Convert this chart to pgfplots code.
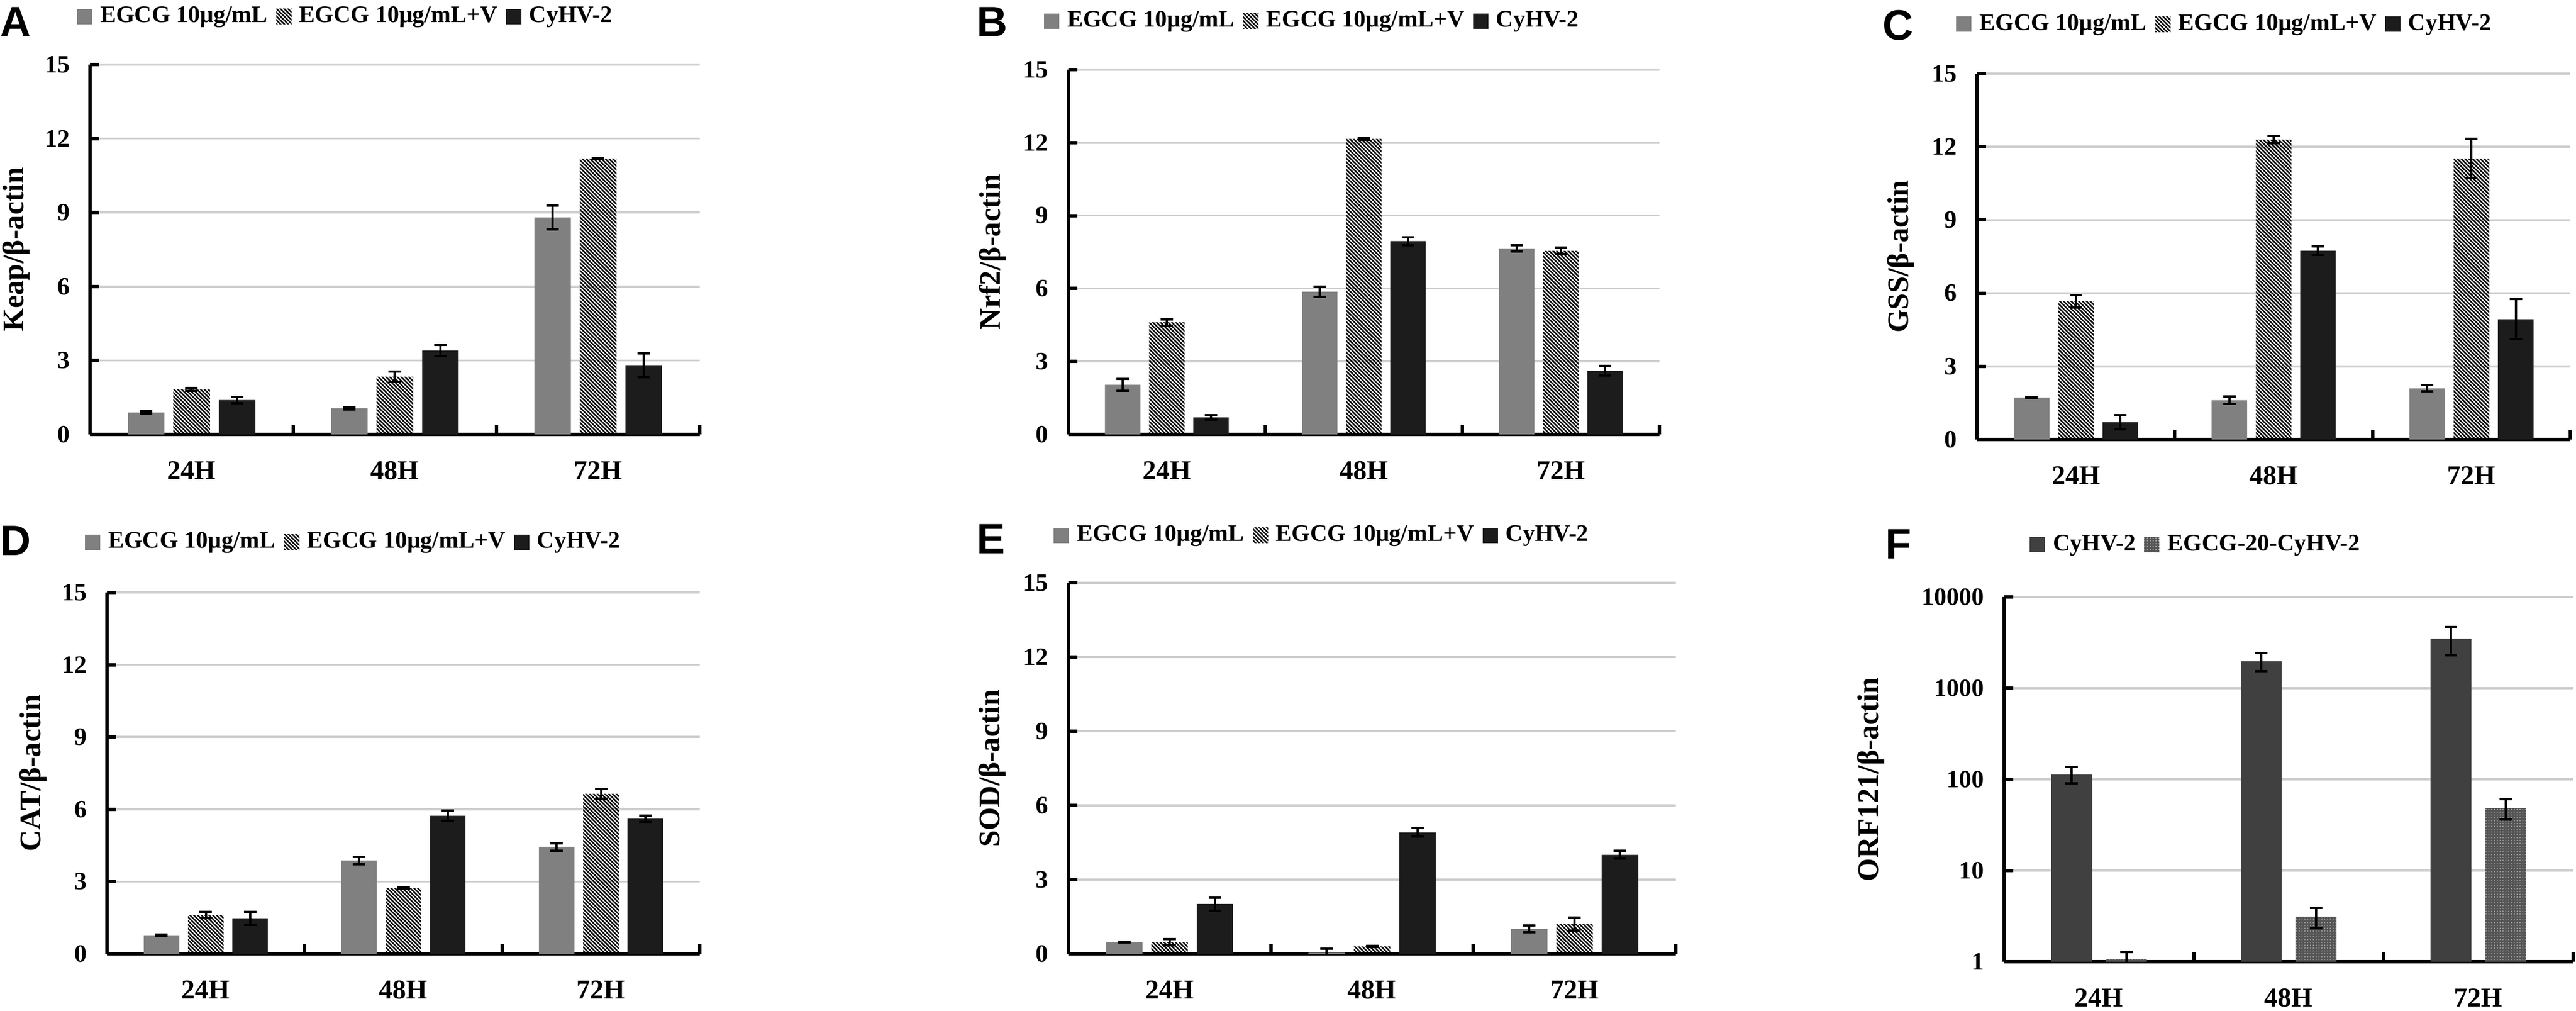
\documentclass[border=0pt]{standalone}
\usepackage{fontspec}
\setmainfont{Liberation Serif}
\newfontfamily\panelfont{Liberation Sans}
\usepackage{pgfplots}
\pgfplotsset{compat=1.18}
\usetikzlibrary{patterns.meta}

\definecolor{cgrey}{RGB}{128,128,128}
\definecolor{cblack}{RGB}{28,28,28}
\definecolor{cdark}{RGB}{64,64,64}
\definecolor{cdot}{RGB}{85,85,85}
\definecolor{cgrid}{RGB}{205,205,205}

\pgfplotsset{
  sq legend/.style={legend image code/.code={\fill[##1] (0pt,-2.7pt) rectangle (5.4pt,2.7pt);}},
  bgrey/.style={fill=cgrey, draw=none, bar shift=-0.224, sq legend},
  bhatch/.style={draw=none, pattern={Lines[angle=-45,distance=0.95pt,line width=0.5pt]}, pattern color=black, bar shift=0, sq legend},
  bblack/.style={fill=cblack, draw=none, bar shift=0.224, sq legend},
  bdark/.style={fill=cdark, draw=none, bar shift=-0.144, bar width=0.216, sq legend},
  bdot/.style={fill=cdot, draw=none, postaction={pattern={Dots[distance=0.9pt,radius=0.22pt]}, pattern color=white!65!cdot}, bar shift=0.144, bar width=0.216, sq legend},
  errs/.style={error bars/y dir=both, error bars/y explicit,
    error bars/error bar style={line width=0.8pt, black},
    error bars/error mark options={rotate=90, line width=0.8pt, black, mark size=2.2pt}},
  panel/.style={
    scale only axis, ybar, bar width=0.18,
    xmin=-0.5, xmax=2.5, ymin=0, ymax=15,
    xtick={0,1,2}, xticklabels={24H,48H,72H},
    major x tick style={draw=none},
    minor xtick={-0.5,0.5,1.5,2.5},
    ytick={0,3,...,15},
    tick align=inside,
    axis x line*=bottom, axis y line*=left,
    axis line style={line width=1.2pt, black, -},
    every tick/.style={black, line width=1.2pt},
    major tick length=3.2pt, minor tick length=3.4pt,
    ymajorgrids, grid style={cgrid, line width=0.7pt},
    /pgf/number format/assume math mode=true,
    yticklabel style={font=\bfseries\fontsize{8.8}{10}\selectfont, xshift=-3.5pt},
    xticklabel style={font=\bfseries\fontsize{9.6}{10}\selectfont, yshift=-6pt},
    ylabel style={font=\bfseries\fontsize{10.5}{12}\selectfont, anchor=center},
    legend columns=-1,
    legend cell align=left,
    legend style={draw=none, fill=none, inner sep=0pt, anchor=west,
      font=\bfseries\fontsize{8.4}{9}\selectfont,
      nodes={inner xsep=1pt, inner ysep=1pt},
      /tikz/every even column/.append style={column sep=2pt},
      /tikz/every odd column/.append style={column sep=1.8pt}},
  }
}

\begin{document}
\begin{tikzpicture}
\useasboundingbox (0,0) rectangle (910pt,356.8pt);

% A
\begin{axis}[panel, at={(31.8pt,203.4pt)}, anchor=south west, width=215.4pt, height=130.6pt,
  ylabel={Keap/β-actin}, ylabel style={at={(axis description cs:-0.121,0.5)}},
  legend style={at={(axis description cs:-0.022,1.130)}}]
\addplot[bgrey, errs] coordinates {(0,0.89) +- (0,0.05) (1,1.06) +- (0,0.05) (2,8.80) +- (0,0.49)};
\addplot[bhatch, errs] coordinates {(0,1.83) +- (0,0.05) (1,2.34) +- (0,0.21) (2,11.19) +- (0,0.03)};
\addplot[bblack, errs] coordinates {(0,1.39) +- (0,0.12) (1,3.40) +- (0,0.24) (2,2.81) +- (0,0.48)};
\legend{EGCG 10μg/mL, EGCG 10μg/mL+V, CyHV-2}
\end{axis}

% B
\begin{axis}[panel, at={(377.4pt,203.4pt)}, anchor=south west, width=208.8pt, height=128.8pt,
  ylabel={Nrf2/β-actin}, ylabel style={at={(axis description cs:-0.128,0.5)}},
  legend style={at={(axis description cs:-0.042,1.1335)}}]
\addplot[bgrey, errs] coordinates {(0,2.04) +- (0,0.25) (1,5.87) +- (0,0.20) (2,7.65) +- (0,0.12)};
\addplot[bhatch, errs] coordinates {(0,4.61) +- (0,0.13) (1,12.15) +- (0,0.03) (2,7.55) +- (0,0.13)};
\addplot[bblack, errs] coordinates {(0,0.70) +- (0,0.10) (1,7.95) +- (0,0.16) (2,2.62) +- (0,0.20)};
\legend{EGCG 10μg/mL, EGCG 10μg/mL+V, CyHV-2}
\end{axis}

% C
\begin{axis}[panel, at={(698.4pt,201.6pt)}, anchor=south west, width=209.6pt, height=129.2pt,
  ylabel={GSS/β-actin}, ylabel style={at={(axis description cs:-0.128,0.5)}},
  legend style={at={(axis description cs:-0.036,1.1347)}}]
\addplot[bgrey, errs] coordinates {(0,1.72) +- (0,0.02) (1,1.61) +- (0,0.15) (2,2.10) +- (0,0.12)};
\addplot[bhatch, errs] coordinates {(0,5.66) +- (0,0.25) (1,12.29) +- (0,0.15) (2,11.52) +- (0,0.80)};
\addplot[bblack, errs] coordinates {(0,0.71) +- (0,0.30) (1,7.74) +- (0,0.18) (2,4.93) +- (0,0.82)};
\legend{EGCG 10μg/mL, EGCG 10μg/mL+V, CyHV-2}
\end{axis}

% D
\begin{axis}[panel, at={(37.8pt,20pt)}, anchor=south west, width=209.4pt, height=127.6pt,
  ylabel={CAT/β-actin}, ylabel style={at={(axis description cs:-0.125,0.5)}},
  legend style={at={(axis description cs:-0.038,1.1395)}}]
\addplot[bgrey, errs] coordinates {(0,0.77) +- (0,0.04) (1,3.87) +- (0,0.16) (2,4.44) +- (0,0.15)};
\addplot[bhatch, errs] coordinates {(0,1.61) +- (0,0.12) (1,2.73) +- (0,0.02) (2,6.64) +- (0,0.20)};
\addplot[bblack, errs] coordinates {(0,1.47) +- (0,0.27) (1,5.73) +- (0,0.21) (2,5.61) +- (0,0.12)};
\legend{EGCG 10μg/mL, EGCG 10μg/mL+V, CyHV-2}
\end{axis}

% E
\begin{axis}[panel, at={(377.4pt,20pt)}, anchor=south west, width=214.6pt, height=131pt,
  ylabel={SOD/β-actin}, ylabel style={at={(axis description cs:-0.125,0.5)}},
  legend style={at={(axis description cs:-0.025,1.128)}}]
\addplot[bgrey, errs] coordinates {(0,0.47) +- (0,0.02) (1,0.05) +- (0,0.15) (2,1.01) +- (0,0.13)};
\addplot[bhatch, errs] coordinates {(0,0.47) +- (0,0.12) (1,0.30) +- (0,0.03) (2,1.21) +- (0,0.26)};
\addplot[bblack, errs] coordinates {(0,2.01) +- (0,0.26) (1,4.91) +- (0,0.17) (2,4.00) +- (0,0.16)};
\legend{EGCG 10μg/mL, EGCG 10μg/mL+V, CyHV-2}
\end{axis}

% F
\begin{axis}[panel, at={(708pt,17.2pt)}, anchor=south west, width=201pt, height=128.8pt,
  ymode=log, ymin=1, ymax=10000, ytick={1,10,100,1000,10000},
  yticklabels={1,10,100,1000,10000}, yminorticks=false,
  ylabel={ORF121/β-actin}, ylabel style={at={(axis description cs:-0.234,0.5)}},
  legend style={at={(axis description cs:0.044,1.143)}}]
\addplot[bdark, errs] coordinates {(0,113) +- (0,23) (1,1977) +- (0,450) (2,3485) +- (0,1200)};
\addplot[bdot, errs] coordinates {(0,1.07) +- (0,0.2) (1,3.11) +- (0,0.8) (2,48.2) +- (0,12)};
\legend{CyHV-2, EGCG-20-CyHV-2}
\end{axis}

% panel letters
\tikzset{plet/.style={anchor=north west, inner sep=0pt, font=\panelfont\bfseries\fontsize{15}{16}\selectfont}}
\node[plet] at (0pt,354.4pt) {A};
\node[plet] at (344.8pt,354.4pt) {B};
\node[plet] at (664.8pt,353.4pt) {C};
\node[plet] at (0pt,171.2pt) {D};
\node[plet] at (344.8pt,171.8pt) {E};
\node[plet] at (665.8pt,170pt) {F};
\end{tikzpicture}
\end{document}
